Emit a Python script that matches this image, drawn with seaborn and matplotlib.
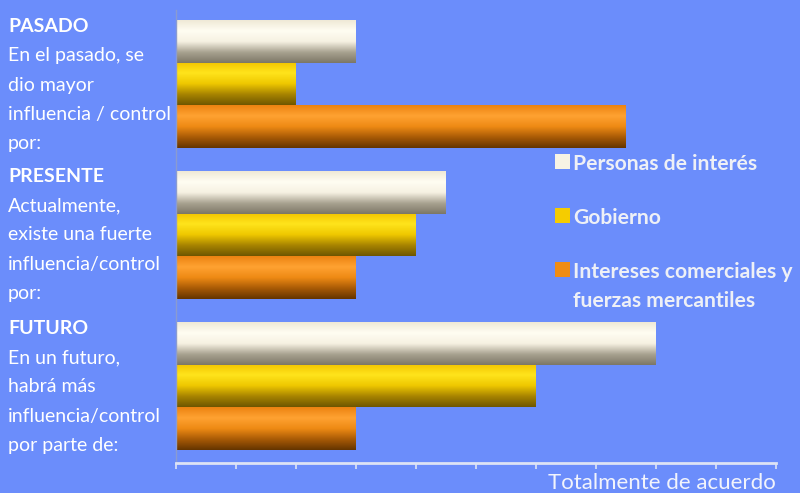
import numpy as np
import pandas as pd
import matplotlib
matplotlib.use("Agg")
import matplotlib.pyplot as plt
import seaborn as sns
from matplotlib.colors import LinearSegmentedColormap

periods = ["PASADO", "PRESENTE", "FUTURO"]
series = ["Personas de interés", "Gobierno", "Intereses comerciales y\nfuerzas mercantiles"]
personas = [3.0, 4.5, 8.0]
gobierno = [2.0, 4.0, 6.0]
intereses = [7.5, 3.0, 3.0]

period_texts = [
    ["En el pasado, se", "dio mayor", "influencia / control", "por:"],
    ["Actualmente,", "existe una fuerte", "influencia/control", "por:"],
    ["En un futuro,", "habrá más", "influencia/control", "por parte de:"],
]
xlabel_text = "Totalmente de acuerdo"

bg = "#6b8dfb"
base_colors = ["#f7f3e4", "#f5cc00", "#f08c14"]
gradients = [
    ["#efe9d6", "#fffdf2", "#f6f1e2", "#a8a290", "#7c7766"],
    ["#f2c400", "#ffe41c", "#efc800", "#a88400", "#6e5600"],
    ["#ec8210", "#ffa232", "#ee8a14", "#a85a06", "#643400"],
]

df = pd.DataFrame({
    "period": periods * 3,
    "series": [series[0]] * 3 + [series[1]] * 3 + [series[2]] * 3,
    "value": personas + gobierno + intereses,
})

sns.set_theme(style="white")
plt.rcParams["font.family"] = ["Lato", "DejaVu Sans"]

fig = plt.figure(figsize=(8, 4.93), dpi=100, facecolor=bg)
ax = fig.add_axes([176 / 800, 30 / 493, 600 / 800, 453 / 493])
ax.set_facecolor(bg)

sns.barplot(data=df, x="value", y="period", hue="series", orient="h",
            palette=base_colors, width=0.85, ax=ax, legend=True,
            edgecolor="none", saturation=1)

# gradient overlays on each bar
grad_img = np.linspace(0, 1, 256).reshape(-1, 1)
for i, cont in enumerate(ax.containers):
    cmap = LinearSegmentedColormap.from_list(f"g{i}", gradients[i])
    for patch in cont:
        x0, y0 = patch.get_x(), patch.get_y()
        w, h = patch.get_width(), patch.get_height()
        im = ax.imshow(grad_img, cmap=cmap, aspect="auto",
                       extent=[x0, x0 + w, y0 + h, y0], zorder=patch.get_zorder() + 0.1,
                       interpolation="bilinear")
        im.set_clip_path(patch)
ax.set_xlim(0, 10)
ax.set_ylim(2.51, -0.49)

ax.set_xticks(np.arange(0, 11, 1))
ax.set_xticklabels([])
ax.set_yticks([])
ax.set_ylabel("")
ax.tick_params(axis="x", bottom=True, direction="out", length=4, width=1.2, color="#dde3f5")
ax.set_xlabel(xlabel_text, loc="right", color="#f2f4fb", fontsize=16, labelpad=0)
for s in ["top", "right"]:
    ax.spines[s].set_visible(False)
ax.spines["bottom"].set_color("#dde3f5")
ax.spines["bottom"].set_linewidth(2)
ax.spines["left"].set_color("#8a9bd0")
ax.spines["left"].set_linewidth(1)

leg_fs = 15.2
leg = ax.legend(loc="upper left", bbox_to_anchor=(547 / 800, 1 - 146 / 493),
                bbox_transform=fig.transFigure, frameon=False, borderaxespad=0,
                handlelength=0.7, handleheight=0.7, handletextpad=0.15,
                labelspacing=1.6, fontsize=leg_fs)
for t in leg.get_texts():
    t.set_color("#eef0f6")
    t.set_fontweight("bold")
    t.set_linespacing(1.55)
for col in leg._legend_handle_box.get_children():
    for row in col.get_children():
        row.align = "top"

# left side texts
tops = [26, 176, 328]
pitch = 29.5
for k, title in enumerate(periods):
    y = tops[k]
    fig.text(8 / 800, 1 - y / 493, title, color="white", fontsize=14,
             fontweight="bold", va="center", ha="left")
    for j, line in enumerate(period_texts[k]):
        yy = y + pitch * (j + 1)
        fig.text(8 / 800, 1 - yy / 493, line, color="white", fontsize=14,
                 va="center", ha="left")

fig.savefig("out.png", dpi=100, facecolor=bg)
